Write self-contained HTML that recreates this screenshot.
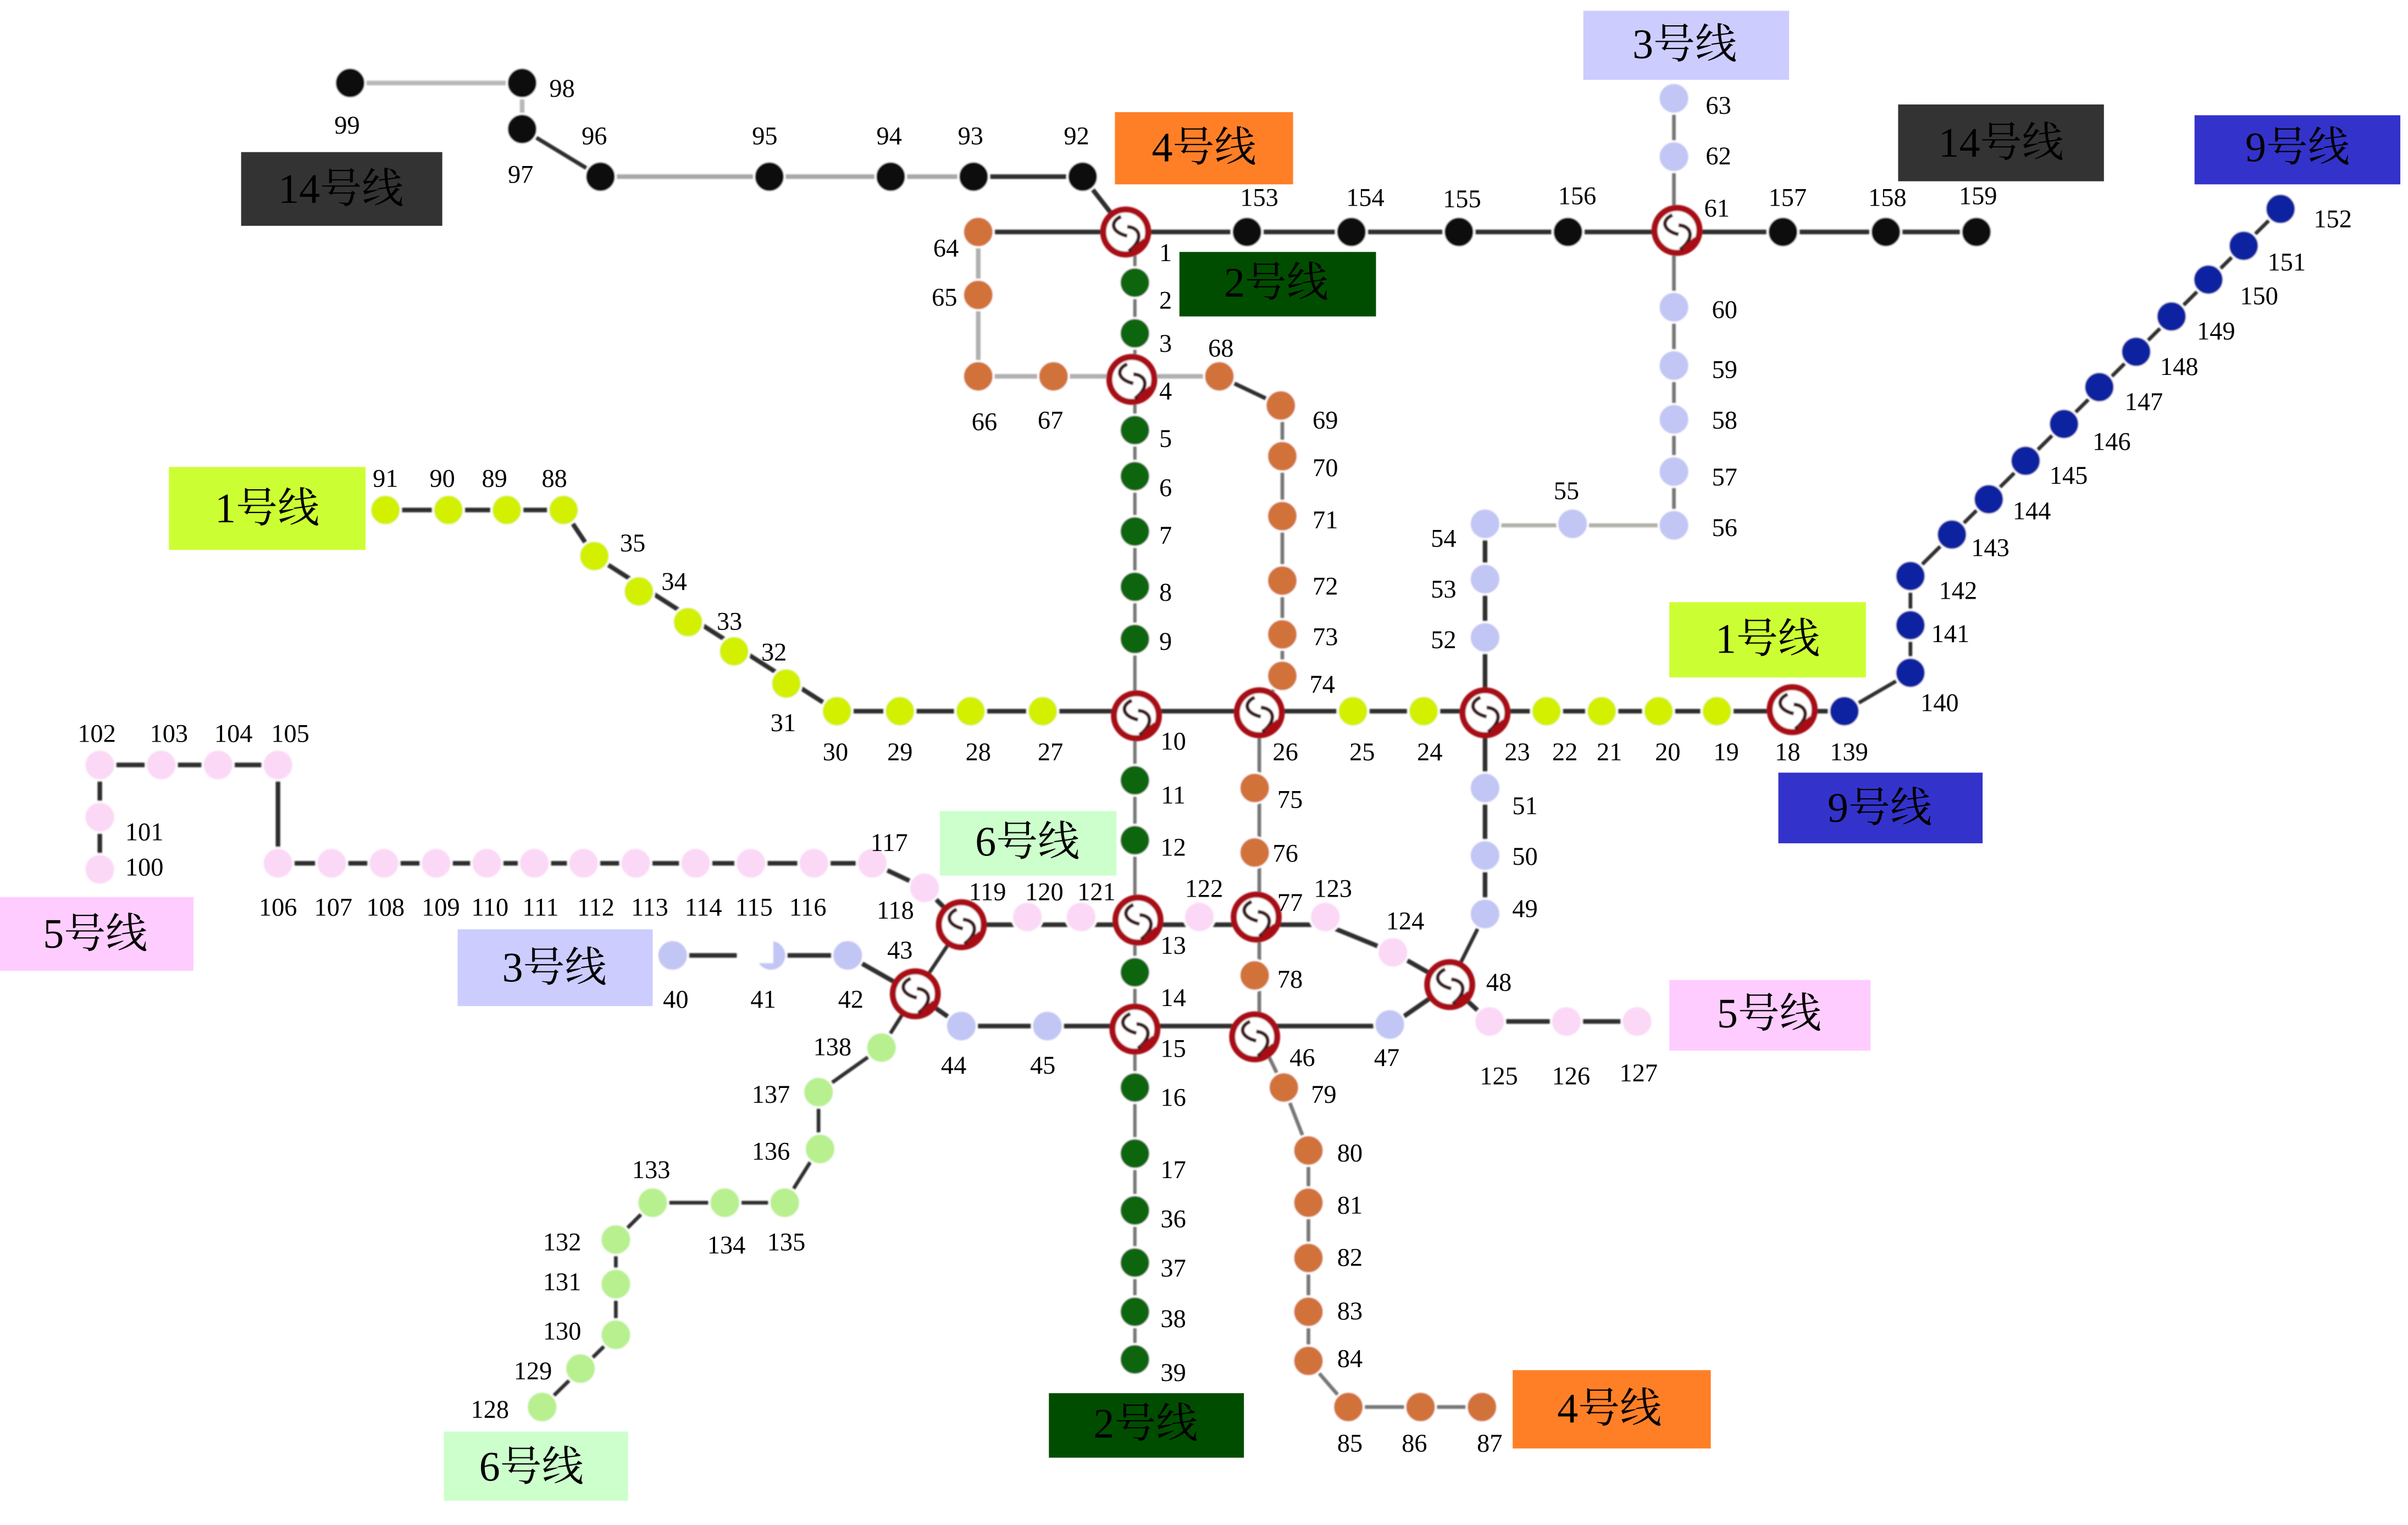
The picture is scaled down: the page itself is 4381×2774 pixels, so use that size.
<!DOCTYPE html>
<html><head><meta charset="utf-8"><title>地铁线路图</title>
<style>
html,body{margin:0;padding:0;background:#fff}
svg{display:block}
text{font-family:"Liberation Serif","Noto Serif CJK SC",serif;fill:#000;text-anchor:middle}
.n text{font-size:16.6px}
.b text{font-size:27.2px}
.st circle{r:10px;stroke:#fff;stroke-width:1.3px}
</style></head><body>
<svg xmlns="http://www.w3.org/2000/svg" width="4381" height="2774" viewBox="0 0 1568 992.8">
<defs>
<filter id="s" x="-5%" y="-5%" width="110%" height="110%"><feGaussianBlur stdDeviation="0.5"/></filter>
<g id="ic">
<circle r="14.6" fill="#fff" stroke="#a80f14" stroke-width="4"/>
<path d="M-3,-10C-10,-7 -10,0 1,2.6M1,-3.4C9.5,-3 12,5 2,12.5" fill="none" stroke="#3a1418" stroke-width="2.4"/>
<path d="M4,12L12,5" fill="none" stroke="#a80f14" stroke-width="2"/>
</g>
</defs>
<rect width="1568" height="993" fill="#fff"/>
<g filter="url(#s)">
<!-- lines -->
<g fill="none" stroke="#2e2e2e" stroke-width="3">
<path stroke="#b8b8b8" d="M228,54H340V84"/>
<path d="M340,84L391,115" stroke-width="2.6"/>
<path stroke="#a8a8a8" d="M391,115H634"/>
<path d="M634,115H705L733,151"/>
<path d="M637,151H1287"/>
<path stroke="#b0b0b0" d="M637,151V245H794"/>
<path d="M794,245L834,264" stroke-width="2.6"/>
<path stroke="#777" stroke-width="2.4" d="M835,264V440L820,464V675L836,708L852,749V886L878,916H965"/>
<path stroke="#777" stroke-width="2.2" d="M739,151V885"/>
<path d="M251,332H367L387,362L545,463H1201"/>
<path d="M1201,463L1244,438V375L1485,136" stroke-width="2.4"/>
<path stroke="#777" stroke-width="2.4" d="M1090,64V342"/>
<path stroke="#b0b0a8" stroke-width="2.6" d="M1090,342H967"/>
<path d="M967,341V595"/>
<path stroke-width="2.4" d="M967,595L944,641"/>
<path d="M438,622H552L596,647L626,668H905L944,641"/>
<path d="M65,566V498H181V562H568L602,578L626,602H863L907,620L944,641L970,665H1066"/>
<path stroke-width="2.4" d="M626,602L596,647L574,682L533,711V748L511,783H425L401,807V869L353,916"/>
</g>
<!-- stations -->
<g class="st" fill="#111">
<circle cx="228" cy="54" r="10"/><circle cx="340" cy="54" r="10"/><circle cx="340" cy="84" r="10"/><circle cx="391" cy="115" r="10"/><circle cx="501" cy="115" r="10"/><circle cx="580" cy="115" r="10"/><circle cx="634" cy="115" r="10"/><circle cx="705" cy="115" r="10"/><circle cx="812" cy="151" r="10"/><circle cx="880" cy="151" r="10"/><circle cx="950" cy="151" r="10"/><circle cx="1021" cy="151" r="10"/><circle cx="1161" cy="151" r="10"/><circle cx="1228" cy="151" r="10"/><circle cx="1287" cy="151" r="10"/>
</g>
<g class="st" fill="#d2723a">
<circle cx="637" cy="151" r="10"/><circle cx="637" cy="192" r="10"/><circle cx="637" cy="245" r="10"/><circle cx="686" cy="245" r="10"/><circle cx="794" cy="245" r="10"/><circle cx="834" cy="264" r="10"/><circle cx="835" cy="297" r="10"/><circle cx="835" cy="336" r="10"/><circle cx="835" cy="378" r="10"/><circle cx="835" cy="413" r="10"/><circle cx="835" cy="440" r="10"/><circle cx="817" cy="513" r="10"/><circle cx="817" cy="555" r="10"/><circle cx="817" cy="635" r="10"/><circle cx="836" cy="708" r="10"/><circle cx="852" cy="749" r="10"/><circle cx="852" cy="783" r="10"/><circle cx="852" cy="819" r="10"/><circle cx="852" cy="854" r="10"/><circle cx="852" cy="886" r="10"/><circle cx="878" cy="916" r="10"/><circle cx="925" cy="916" r="10"/><circle cx="965" cy="916" r="10"/>
</g>
<g class="st" fill="#0a660f">
<circle cx="739" cy="184" r="10"/><circle cx="739" cy="217" r="10"/><circle cx="739" cy="280" r="10"/><circle cx="739" cy="310" r="10"/><circle cx="739" cy="346" r="10"/><circle cx="739" cy="382" r="10"/><circle cx="739" cy="416" r="10"/><circle cx="739" cy="508" r="10"/><circle cx="739" cy="547" r="10"/><circle cx="739" cy="633" r="10"/><circle cx="739" cy="708" r="10"/><circle cx="739" cy="751" r="10"/><circle cx="739" cy="788" r="10"/><circle cx="739" cy="822" r="10"/><circle cx="739" cy="854" r="10"/><circle cx="739" cy="885" r="10"/>
</g>
<g class="st" fill="#d2f000">
<circle cx="251" cy="332" r="10"/><circle cx="292" cy="332" r="10"/><circle cx="330" cy="332" r="10"/><circle cx="367" cy="332" r="10"/><circle cx="387" cy="362" r="10"/><circle cx="416" cy="385" r="10"/><circle cx="448" cy="405" r="10"/><circle cx="478" cy="424" r="10"/><circle cx="512" cy="445" r="10"/><circle cx="545" cy="463" r="10"/><circle cx="586" cy="463" r="10"/><circle cx="632" cy="463" r="10"/><circle cx="679" cy="463" r="10"/><circle cx="881" cy="463" r="10"/><circle cx="927" cy="463" r="10"/><circle cx="1007" cy="463" r="10"/><circle cx="1043" cy="463" r="10"/><circle cx="1080" cy="463" r="10"/><circle cx="1118" cy="463" r="10"/>
</g>
<g class="st" fill="#0f24a0">
<circle cx="1201" cy="463" r="10"/><circle cx="1244" cy="438" r="10"/><circle cx="1244" cy="407" r="10"/><circle cx="1244" cy="375" r="10"/><circle cx="1271" cy="348" r="10"/><circle cx="1295" cy="325" r="10"/><circle cx="1319" cy="300" r="10"/><circle cx="1344" cy="276" r="10"/><circle cx="1367" cy="252" r="10"/><circle cx="1391" cy="229" r="10"/><circle cx="1414" cy="206" r="10"/><circle cx="1438" cy="182" r="10"/><circle cx="1461" cy="160" r="10"/><circle cx="1485" cy="136" r="10"/>
</g>
<g class="st" fill="#c2c6f4">
<circle cx="1090" cy="64" r="10"/><circle cx="1090" cy="102" r="10"/><circle cx="1090" cy="200" r="10"/><circle cx="1090" cy="238" r="10"/><circle cx="1090" cy="273" r="10"/><circle cx="1090" cy="307" r="10"/><circle cx="1090" cy="342" r="10"/><circle cx="1024" cy="341" r="10"/><circle cx="967" cy="341" r="10"/><circle cx="967" cy="377" r="10"/><circle cx="967" cy="415" r="10"/><circle cx="967" cy="513" r="10"/><circle cx="967" cy="557" r="10"/><circle cx="967" cy="595" r="10"/><circle cx="905" cy="667" r="10"/><circle cx="682" cy="668" r="10"/><circle cx="626" cy="668" r="10"/><circle cx="552" cy="622" r="10"/><circle cx="502" cy="622" r="10"/><circle cx="438" cy="622" r="10"/>
</g>
<g class="st" fill="#fbd9f6">
<circle cx="65" cy="566" r="10"/><circle cx="65" cy="532" r="10"/><circle cx="65" cy="498" r="10"/><circle cx="105" cy="498" r="10"/><circle cx="142" cy="498" r="10"/><circle cx="181" cy="498" r="10"/><circle cx="181" cy="562" r="10"/><circle cx="216" cy="562" r="10"/><circle cx="250" cy="562" r="10"/><circle cx="284" cy="562" r="10"/><circle cx="317" cy="562" r="10"/><circle cx="348" cy="562" r="10"/><circle cx="380" cy="562" r="10"/><circle cx="414" cy="562" r="10"/><circle cx="453" cy="562" r="10"/><circle cx="489" cy="562" r="10"/><circle cx="530" cy="562" r="10"/><circle cx="568" cy="562" r="10"/><circle cx="602" cy="578" r="10"/><circle cx="669" cy="597" r="10"/><circle cx="704" cy="597" r="10"/><circle cx="781" cy="597" r="10"/><circle cx="863" cy="597" r="10"/><circle cx="907" cy="620" r="10"/><circle cx="970" cy="665" r="10"/><circle cx="1020" cy="665" r="10"/><circle cx="1066" cy="665" r="10"/>
</g>
<g class="st" fill="#b8f090">
<circle cx="574" cy="682" r="10"/><circle cx="533" cy="711" r="10"/><circle cx="534" cy="748" r="10"/><circle cx="511" cy="783" r="10"/><circle cx="472" cy="783" r="10"/><circle cx="425" cy="783" r="10"/><circle cx="401" cy="807" r="10"/><circle cx="401" cy="836" r="10"/><circle cx="401" cy="869" r="10"/><circle cx="378" cy="891" r="10"/><circle cx="353" cy="916" r="10"/>
</g>
<rect x="480" y="609" width="23.5" height="18" fill="#fff"/>
<!-- interchanges -->
<use href="#ic" x="733" y="151"/><use href="#ic" x="1092" y="150"/><use href="#ic" x="737" y="247"/><use href="#ic" x="740" y="466"/><use href="#ic" x="820" y="464"/><use href="#ic" x="967" y="464"/><use href="#ic" x="1167" y="462"/><use href="#ic" x="626" y="602"/><use href="#ic" x="741" y="599"/><use href="#ic" x="818" y="597"/><use href="#ic" x="596" y="647"/><use href="#ic" x="739" y="670"/><use href="#ic" x="817" y="675"/><use href="#ic" x="944" y="641"/>
</g>
<!-- line label boxes -->
<g class="b">
<rect x="157" y="99" width="131" height="48" fill="#333"/><text x="222" y="132">14号线</text>
<rect x="1236" y="68" width="134" height="50" fill="#333"/><text x="1303" y="102">14号线</text>
<rect x="726" y="73" width="116" height="47" fill="#ff7f27"/><text x="784" y="105">4号线</text>
<rect x="768" y="164" width="128" height="42" fill="#004d00"/><text x="831" y="193">2号线</text>
<rect x="1031" y="7" width="134" height="45" fill="#ccccff"/><text x="1097" y="38">3号线</text>
<rect x="1429" y="75" width="134" height="45" fill="#3333cc"/><text x="1496" y="105">9号线</text>
<rect x="110" y="304" width="128" height="54" fill="#ccff33"/><text x="174" y="340">1号线</text>
<rect x="1087" y="392" width="128" height="49" fill="#ccff33"/><text x="1151" y="425">1号线</text>
<rect x="1158" y="503" width="133" height="46" fill="#3333cc"/><text x="1224" y="535">9号线</text>
<rect x="0" y="584" width="126" height="48" fill="#ffccff"/><text x="62" y="617">5号线</text>
<rect x="612" y="528" width="115" height="42" fill="#ccffcc"/><text x="669" y="557">6号线</text>
<rect x="298" y="605" width="127" height="50" fill="#ccccff"/><text x="361" y="639">3号线</text>
<rect x="1087" y="638" width="131" height="46" fill="#ffccff"/><text x="1152" y="669">5号线</text>
<rect x="985" y="892" width="129" height="51" fill="#ff7f27"/><text x="1048" y="926">4号线</text>
<rect x="683" y="907" width="127" height="42" fill="#004d00"/><text x="746" y="936">2号线</text>
<rect x="289" y="932" width="120" height="45" fill="#ccffcc"/><text x="346" y="964">6号线</text>
</g>
<!-- station numbers -->
<g class="n">
<text x="226" y="87">99</text><text x="366" y="63">98</text><text x="339" y="119">97</text><text x="387" y="94">96</text><text x="498" y="94">95</text><text x="579" y="94">94</text><text x="632" y="94">93</text><text x="701" y="94">92</text><text x="820" y="134">153</text><text x="889" y="134">154</text><text x="952" y="135">155</text><text x="1027" y="133">156</text><text x="1118" y="141">61</text><text x="1164" y="134">157</text><text x="1229" y="134">158</text><text x="1288" y="133">159</text>
<text x="616" y="167">64</text><text x="615" y="199">65</text><text x="641" y="280">66</text><text x="684" y="279">67</text><text x="795" y="232">68</text><text x="863" y="279">69</text><text x="863" y="310">70</text><text x="863" y="344">71</text><text x="863" y="387">72</text><text x="863" y="420">73</text><text x="861" y="451">74</text><text x="840" y="526">75</text><text x="837" y="561">76</text><text x="840" y="593">77</text><text x="840" y="643">78</text><text x="848" y="694">46</text><text x="862" y="718">79</text><text x="879" y="756">80</text><text x="879" y="790">81</text><text x="879" y="824">82</text><text x="879" y="859">83</text><text x="879" y="890">84</text><text x="879" y="945">85</text><text x="921" y="945">86</text><text x="970" y="945">87</text>
<text x="759" y="170">1</text><text x="759" y="201">2</text><text x="759" y="229">3</text><text x="759" y="260">4</text><text x="759" y="291">5</text><text x="759" y="323">6</text><text x="759" y="354">7</text><text x="759" y="391">8</text><text x="759" y="423">9</text><text x="764" y="488">10</text><text x="764" y="523">11</text><text x="764" y="557">12</text><text x="764" y="621">13</text><text x="764" y="655">14</text><text x="764" y="688">15</text><text x="764" y="720">16</text><text x="764" y="767">17</text><text x="764" y="799">36</text><text x="764" y="831">37</text><text x="764" y="864">38</text><text x="764" y="899">39</text>
<text x="251" y="317">91</text><text x="288" y="317">90</text><text x="322" y="317">89</text><text x="361" y="317">88</text><text x="412" y="359">35</text><text x="439" y="384">34</text><text x="475" y="410">33</text><text x="504" y="430">32</text><text x="510" y="476">31</text><text x="544" y="495">30</text><text x="586" y="495">29</text><text x="637" y="495">28</text><text x="684" y="495">27</text><text x="837" y="495">26</text><text x="887" y="495">25</text><text x="931" y="495">24</text><text x="988" y="495">23</text><text x="1019" y="495">22</text><text x="1048" y="495">21</text><text x="1086" y="495">20</text><text x="1124" y="495">19</text><text x="1164" y="495">18</text>
<text x="1204" y="495">139</text><text x="1263" y="463">140</text><text x="1270" y="418">141</text><text x="1275" y="390">142</text><text x="1296" y="362">143</text><text x="1323" y="338">144</text><text x="1347" y="315">145</text><text x="1375" y="293">146</text><text x="1396" y="267">147</text><text x="1419" y="244">148</text><text x="1443" y="221">149</text><text x="1471" y="198">150</text><text x="1489" y="176">151</text><text x="1519" y="148">152</text>
<text x="1119" y="74">63</text><text x="1119" y="107">62</text><text x="1123" y="207">60</text><text x="1123" y="246">59</text><text x="1123" y="279">58</text><text x="1123" y="316">57</text><text x="1123" y="349">56</text><text x="1020" y="325">55</text><text x="940" y="356">54</text><text x="940" y="389">53</text><text x="940" y="422">52</text><text x="993" y="530">51</text><text x="993" y="563">50</text><text x="993" y="597">49</text><text x="976" y="645">48</text><text x="903" y="694">47</text><text x="679" y="699">45</text><text x="621" y="699">44</text><text x="586" y="624">43</text><text x="554" y="656">42</text><text x="497" y="656">41</text><text x="440" y="656">40</text>
<text x="94" y="570">100</text><text x="94" y="547">101</text><text x="63" y="483">102</text><text x="110" y="483">103</text><text x="152" y="483">104</text><text x="189" y="483">105</text><text x="181" y="596">106</text><text x="217" y="596">107</text><text x="251" y="596">108</text><text x="287" y="596">109</text><text x="319" y="596">110</text><text x="352" y="596">111</text><text x="388" y="596">112</text><text x="423" y="596">113</text><text x="458" y="596">114</text><text x="491" y="596">115</text><text x="526" y="596">116</text><text x="579" y="554">117</text><text x="583" y="598">118</text><text x="643" y="586">119</text><text x="680" y="586">120</text><text x="714" y="586">121</text><text x="784" y="584">122</text><text x="868" y="584">123</text><text x="915" y="605">124</text><text x="976" y="706">125</text><text x="1023" y="706">126</text><text x="1067" y="704">127</text>
<text x="542" y="687">138</text><text x="502" y="718">137</text><text x="502" y="755">136</text><text x="512" y="814">135</text><text x="473" y="816">134</text><text x="424" y="767">133</text><text x="366" y="814">132</text><text x="366" y="840">131</text><text x="366" y="872">130</text><text x="347" y="898">129</text><text x="319" y="923">128</text>
</g>
</svg>
</body></html>
